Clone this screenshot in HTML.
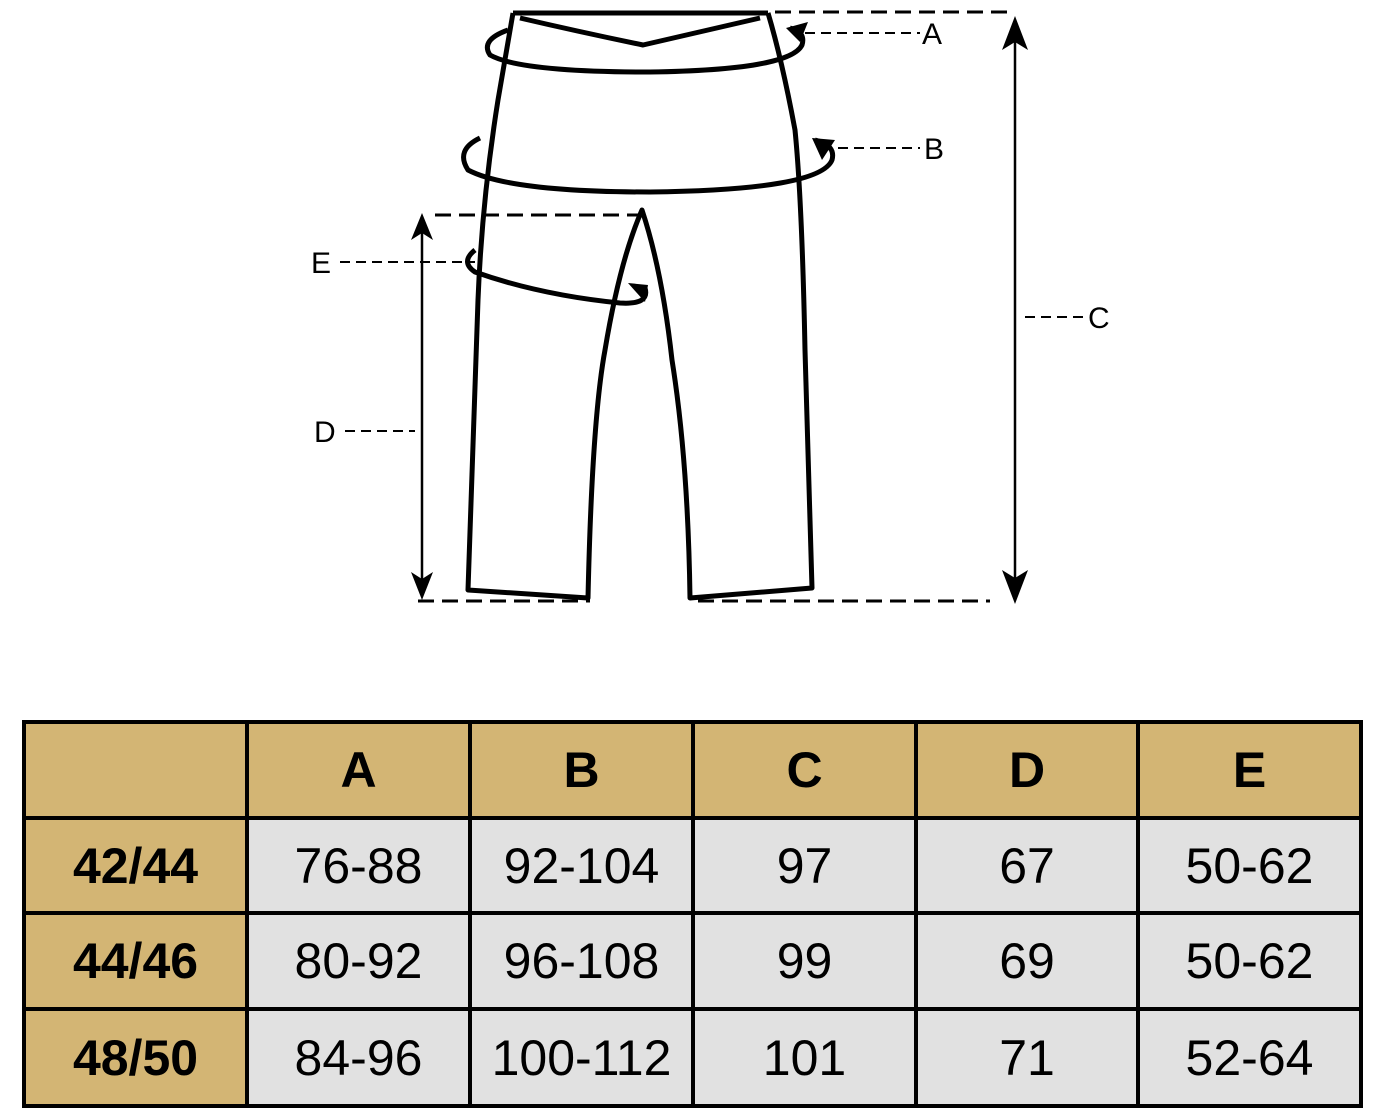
<!DOCTYPE html>
<html><head><meta charset="utf-8"><style>
body{margin:0;background:#fff;width:1387px;height:1114px;position:relative;overflow:hidden;font-family:"Liberation Sans",sans-serif}
.c{position:absolute;display:flex;align-items:center;justify-content:center;font-size:50px;color:#000}
.h{background:#d3b574;font-weight:bold}
.g{background:#e1e1e1}
.l{position:absolute;background:#000}
</style></head><body>
<svg width="1387" height="700" style="position:absolute;left:0;top:0" font-family="Liberation Sans,sans-serif">
<g fill="none" stroke="#000" stroke-width="5" stroke-linejoin="round">
<path d="M513,13 L768,13"/>
<path d="M520,18 Q580,32 643,45 Q700,32 760,18"/>
<path d="M513,13 Q505,60 498,100 Q482,200 478,300 L468,590 L588,598 Q592,420 605,350 Q620,260 642,210 Q662,270 672,360 Q688,460 690,598 L812,588 L805,350 Q802,200 795,130 Q782,60 768,13"/>
<path d="M508,30 Q480,40 490,55 Q520,72 650,72 Q790,70 802,45 Q806,32 790,28"/>
<path d="M480,138 Q455,150 468,170 Q510,192 650,192 Q820,190 832,160 Q836,145 815,140"/>
<path d="M475,250 Q460,262 475,272 Q540,295 620,303 Q650,305 645,288"/>
</g>
<g fill="#000"><path d="M786,28 L808,22 L800,42Z"/><path d="M812,138 L835,140 L822,160Z"/><path d="M628,283 L648,285 L645,302Z"/></g>
<g stroke="#000" stroke-width="2" stroke-dasharray="10,6" fill="none">
<path d="M805,33 H920"/><path d="M838,148 H920"/><path d="M1025,317 H1088"/>
<path d="M340,262 H475"/><path d="M345,431 H415"/>
</g>
<g stroke="#000" stroke-width="3" stroke-dasharray="16,8" fill="none">
<path d="M775,12 H1015"/><path d="M698,601 H990"/><path d="M435,215 H640"/><path d="M418,601 H590"/>
</g>
<g stroke="#000" stroke-width="2.5"><path d="M1015,30 V590"/><path d="M422,230 V588"/></g>
<g fill="#000">
<path d="M1015,16 L1002,50 L1015,42 L1028,50Z"/><path d="M1015,604 L1002,570 L1015,578 L1028,570Z"/>
<path d="M422,213 L411,240 L422,233 L433,240Z"/><path d="M422,600 L411,572 L422,579 L433,572Z"/>
</g>
<g font-size="30" fill="#000">
<text x="922" y="44">A</text><text x="924" y="159">B</text><text x="1088" y="328">C</text>
<text x="311" y="273">E</text><text x="314" y="442">D</text>
</g>
</svg>
<div class="l" style="left:22px;top:720px;width:1341px;height:388px;background:#000"></div>
<div class="c h" style="left:26px;top:724px;width:219px;height:92px"></div>
<div class="c h" style="left:249px;top:724px;width:219px;height:92px">A</div>
<div class="c h" style="left:472px;top:724px;width:219px;height:92px">B</div>
<div class="c h" style="left:695px;top:724px;width:219px;height:92px">C</div>
<div class="c h" style="left:918px;top:724px;width:218px;height:92px">D</div>
<div class="c h" style="left:1140px;top:724px;width:219px;height:92px">E</div>

<div class="c h" style="left:26px;top:820px;width:219px;height:91px">42/44</div>
<div class="c g" style="left:249px;top:820px;width:219px;height:91px">76-88</div>
<div class="c g" style="left:472px;top:820px;width:219px;height:91px">92-104</div>
<div class="c g" style="left:695px;top:820px;width:219px;height:91px">97</div>
<div class="c g" style="left:918px;top:820px;width:218px;height:91px">67</div>
<div class="c g" style="left:1140px;top:820px;width:219px;height:91px">50-62</div>

<div class="c h" style="left:26px;top:915px;width:219px;height:92px">44/46</div>
<div class="c g" style="left:249px;top:915px;width:219px;height:92px">80-92</div>
<div class="c g" style="left:472px;top:915px;width:219px;height:92px">96-108</div>
<div class="c g" style="left:695px;top:915px;width:219px;height:92px">99</div>
<div class="c g" style="left:918px;top:915px;width:218px;height:92px">69</div>
<div class="c g" style="left:1140px;top:915px;width:219px;height:92px">50-62</div>

<div class="c h" style="left:26px;top:1011px;width:219px;height:93px">48/50</div>
<div class="c g" style="left:249px;top:1011px;width:219px;height:93px">84-96</div>
<div class="c g" style="left:472px;top:1011px;width:219px;height:93px">100-112</div>
<div class="c g" style="left:695px;top:1011px;width:219px;height:93px">101</div>
<div class="c g" style="left:918px;top:1011px;width:218px;height:93px">71</div>
<div class="c g" style="left:1140px;top:1011px;width:219px;height:93px">52-64</div>
</body></html>
